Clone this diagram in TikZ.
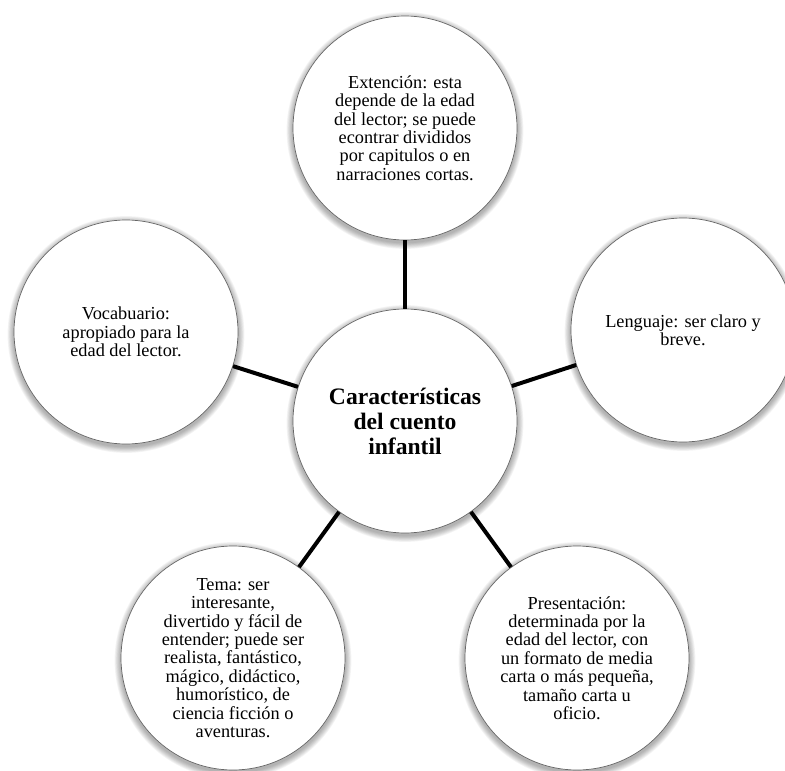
\documentclass[tikz,border=0pt]{standalone}
\usepackage{fontspec}
\setmainfont{Liberation Serif}
\begin{document}
\begin{tikzpicture}[x=1pt,y=-1pt,
  bubble/.style={circle, draw=black!60, line width=0.7pt, fill=white,
    minimum size=224pt, inner sep=0pt, align=center,
    font=\fontsize{18.3}{18.4}\selectfont},
  hub/.style={bubble, font=\bfseries\fontsize{23.6}{25}\selectfont},
  link/.style={line width=4pt, black},
  shadowring/.style={fill=black, opacity=0.045}]
\useasboundingbox (0,0) rectangle (785,771);
\clip (0,0) rectangle (785,771);

% centres of the hub and of the five satellites
\coordinate (c-hub)  at (405,421);
\coordinate (c-ext)  at (405,128);
\coordinate (c-len)  at (683,330);
\coordinate (c-pres) at (577,658);
\coordinate (c-tema) at (233,658);
\coordinate (c-voc)  at (126,332);

% soft shadow below every bubble
\foreach \n in {hub,ext,len,pres,tema,voc}
  \foreach \k in {1,...,8}
    \fill[shadowring] ([yshift=-2.5pt]c-\n) circle[radius=112pt+\k*0.8pt];

% central topic
\node[hub] (hub) at (c-hub) {Características\\del cuento\\infantil};

% five satellites around the centre
\node[bubble] (ext) at (c-ext) {Extención: esta\\depende de la edad\\del lector; se puede\\econtrar divididos\\por capitulos o en\\narraciones cortas.};
\node[bubble] (len) at (c-len) {Lenguaje: ser claro y\\breve.};
\node[bubble] (pres) at (c-pres) {Presentación:\\determinada por la\\edad del lector, con\\un formato de media\\carta o más pequeña,\\tamaño carta u\\oficio.};
\node[bubble] (tema) at (c-tema) {Tema: ser\\interesante,\\divertido y fácil de\\entender; puede ser\\realista, fantástico,\\mágico, didáctico,\\humorístico, de\\ciencia ficción o\\aventuras.};
\node[bubble] (voc) at (c-voc) {Vocabuario:\\apropiado para la\\edad del lector.};

% spokes
\draw[link] (hub) -- (ext);
\draw[link] (hub) -- (len);
\draw[link] (hub) -- (pres);
\draw[link] (hub) -- (tema);
\draw[link] (hub) -- (voc);
\end{tikzpicture}
\end{document}
